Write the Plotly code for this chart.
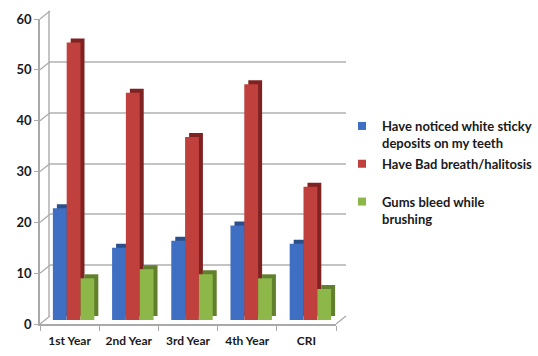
import plotly.graph_objects as go

# ---- data ----
categories = ["1st Year", "2nd Year", "3rd Year", "4th Year", "CRI"]
white_deposits = [22, 14.2, 15.6, 18.6, 15]
bad_breath = [54.6, 44.7, 36, 46.4, 26.2]
gums_bleed = [8.2, 10, 9, 8.2, 6.1]
series_labels = [
    "Have noticed white sticky<br>deposits on my teeth",
    "Have Bad breath/halitosis<br> ",
    "Gums bleed while<br>brushing",
]
y_ticks = [0, 10, 20, 30, 40, 50, 60]

# ---- styling ----
face_colors = ["#3f6fc2", "#c0403d", "#8db849"]
side_colors = ["#2c4f8c", "#7e2222", "#617f2c"]
FONT = "Lato"
W, H = 538, 356

# plot area in pixels (union of front axes and the receding back wall)
PL, PT, PR, PB = 40, 11, 346, 324
PW, PH = PR - PL, PB - PT
AX_W, AX_H = 296, 305          # size of one axis frame
WALL_DX, WALL_DY = 10, 8       # depth of the back wall
BAR_DX, BAR_DY = 4, 4          # bar front faces sit a little into the floor
BAR_DEPTH = 4                  # thickness of each bar


def domain(dx, dy):
    return dict(x=[dx / PW, (dx + AX_W) / PW], y=[dy / PH, (dy + AX_H) / PH])


series = [white_deposits, bad_breath, gums_bleed]

fig = go.Figure()

# empty trace so the back-wall subplot is drawn
fig.add_trace(go.Scatter(x=[None], y=[None], xaxis="x", yaxis="y",
                         showlegend=False, hoverinfo="skip"))
# bar sides/tops (drawn first, shifted back and up)
for vals, col in zip(series, side_colors):
    fig.add_trace(go.Bar(x=categories, y=vals, marker=dict(color=col, line_width=0),
                         xaxis="x2", yaxis="y2", showlegend=False, hoverinfo="skip"))
# bar front faces
for vals, col, name in zip(series, face_colors, series_labels):
    fig.add_trace(go.Bar(x=categories, y=vals, name=name, marker=dict(color=col, line_width=0),
                         xaxis="x3", yaxis="y3", showlegend=False))
# legend keys
for i, (col, name) in enumerate(zip(face_colors, series_labels)):
    fig.add_trace(go.Scatter(x=[None], y=[None], mode="markers", name=name,
                             legendgroup=f"g{i}",
                             marker=dict(symbol="square", size=8, color=col),
                             xaxis="x4", yaxis="y4"))

wall = domain(WALL_DX, WALL_DY)
sides = domain(BAR_DX + BAR_DEPTH, BAR_DY + BAR_DEPTH)
fronts = domain(BAR_DX, BAR_DY)
front = domain(0, 0)

cat_range = [-0.5, len(categories) - 0.5]
hidden_x = dict(range=cat_range, showticklabels=False, showgrid=False, zeroline=False,
                showline=False, ticks="", fixedrange=True, automargin=False)
hidden_y = dict(range=[0, 60], showticklabels=False, showgrid=False, zeroline=False,
                showline=False, ticks="", fixedrange=True, automargin=False)

AXIS_GREY = "#a9a9a9"
GRID_GREY = "#c4c4c4"

fig.update_layout(
    width=W, height=H,
    margin=dict(l=PL, r=W - PR, t=PT, b=H - PB, autoexpand=False),
    paper_bgcolor="white", plot_bgcolor="rgba(0,0,0,0)",
    barmode="group", bargap=0.3, bargroupgap=0,
    font=dict(family=FONT, size=12, color="#1a1a1a"),
    # back wall with gridlines
    xaxis=dict(hidden_x, domain=wall["x"], anchor="y"),
    yaxis=dict(range=[0, 60], domain=wall["y"], anchor="x", tickvals=y_ticks,
               showticklabels=False, showgrid=True, gridcolor=GRID_GREY, gridwidth=1.5,
               zeroline=False, showline=True, linecolor=GRID_GREY, linewidth=1.5,
               ticks="", automargin=False),
    xaxis2=dict(hidden_x, domain=sides["x"], anchor="y2"),
    yaxis2=dict(hidden_y, domain=sides["y"], anchor="x2"),
    xaxis3=dict(hidden_x, domain=fronts["x"], anchor="y3"),
    yaxis3=dict(hidden_y, domain=fronts["y"], anchor="x3"),
    # front axes carrying the labels
    xaxis4=dict(range=cat_range, domain=front["x"], anchor="y4", type="category",
                categoryarray=categories, showgrid=False, zeroline=False,
                showline=True, linecolor=AXIS_GREY, linewidth=1.5,
                ticks="outside", tickson="boundaries", ticklen=5, tickcolor=AXIS_GREY,
                ticklabelstandoff=5, automargin=False,
                tickfont=dict(family=FONT, size=12, weight=700, color="#1a1a1a")),
    yaxis4=dict(range=[0, 60], domain=front["y"], anchor="x4", tickvals=y_ticks,
                showgrid=False, zeroline=False, showline=True, linecolor=AXIS_GREY,
                linewidth=1.5, ticks="outside", ticklen=4, tickcolor=AXIS_GREY,
                automargin=False,
                tickfont=dict(family=FONT, size=13, weight=700, color="#1a1a1a")),
    legend=dict(xref="container", yref="container", x=342 / W, y=1 - 111 / H,
                xanchor="left", yanchor="top", valign="top", itemwidth=30,
                font=dict(family=FONT, size=13, weight=700, color="#1a1a1a"),
                bgcolor="rgba(0,0,0,0)", tracegroupgap=1),
)

# receding connectors between front ticks and the back wall, plus floor edges
shapes = []
for v in y_ticks:
    y_front = v * AX_H / 60
    shapes.append(dict(type="line", xref="paper", yref="paper",
                       x0=0, y0=y_front / PH,
                       x1=WALL_DX / PW, y1=(y_front + WALL_DY) / PH,
                       line=dict(color=AXIS_GREY, width=1.2)))
shapes.append(dict(type="line", xref="paper", yref="paper",
                   x0=AX_W / PW, y0=0, x1=1, y1=WALL_DY / PH,
                   line=dict(color=AXIS_GREY, width=1.2)))
fig.update_layout(shapes=shapes)

fig.write_html("out.html")
